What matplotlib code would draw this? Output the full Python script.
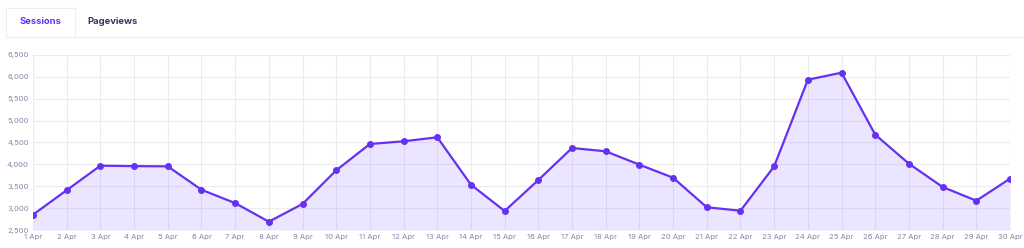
import matplotlib
matplotlib.use("Agg")
import matplotlib.pyplot as plt
from matplotlib.patches import FancyBboxPatch

plt.rcParams['font.family'] = ['Inter', 'DejaVu Sans']

days = [f"{d} Apr" for d in range(1, 31)]
sessions = [2850, 3410, 3970, 3960, 3955, 3420, 3115, 2690, 3095, 3864,
            4466, 4527, 4619, 3535, 2934, 3643, 4374, 4299, 3993, 3695,
            3019, 2941, 3955, 5935, 6096, 4679, 4016, 3483, 3170, 3673]
y_ticks = [2500, 3000, 3500, 4000, 4500, 5000, 5500, 6000, 6500]
tabs = ["Sessions", "Pageviews"]

line_color = "#6631f0"
fill_color = "#7c4dff"
tick_color = "#8b87a6"

fig = plt.figure(figsize=(10.24, 2.48), dpi=100)
fig.patch.set_facecolor("white")

# tab bar
tab_box = FancyBboxPatch((6 / 1024, 1 - 37 / 248), 69 / 1024, 29 / 248,
                         boxstyle="square,pad=0", transform=fig.transFigure,
                         facecolor="white", edgecolor="#eeeef2", linewidth=0.8)
fig.patches.append(tab_box)
fig.add_artist(plt.Line2D([75 / 1024, 1022 / 1024], [1 - 37 / 248, 1 - 37 / 248],
                          transform=fig.transFigure, color="#eeeef2", linewidth=0.8))
fig.text(40.5 / 1024, 1 - 22 / 248, tabs[0], ha="center", va="center",
         fontsize=6.8, fontweight="bold", color=line_color)
fig.text(113 / 1024, 1 - 22 / 248, tabs[1], ha="center", va="center",
         fontsize=6.8, fontweight="bold", color="#3b3460")

ax = fig.add_axes([33 / 1024, 18 / 248, 977 / 1024, 175 / 248])
x = list(range(len(days)))
ax.fill_between(x, sessions, y_ticks[0], color=fill_color, alpha=0.14, linewidth=0)
ax.plot(x, sessions, color=line_color, linewidth=1.6, marker="o",
        markersize=4, markerfacecolor=line_color, markeredgecolor=line_color, zorder=3)

ax.set_xlim(0, len(days) - 1)
ax.set_ylim(y_ticks[0], y_ticks[-1])
ax.set_xticks(x)
ax.set_xticklabels(days)
ax.set_yticks(y_ticks)
ax.set_yticklabels([f"{v:,}" for v in y_ticks])
ax.tick_params(axis="both", length=0, labelsize=5.5, colors=tick_color, pad=3)
ax.grid(True, color="#ececf0", linewidth=0.8)
ax.set_axisbelow(True)
for s in ax.spines.values():
    s.set_visible(False)

fig.savefig("out.png", dpi=100, facecolor="white")
